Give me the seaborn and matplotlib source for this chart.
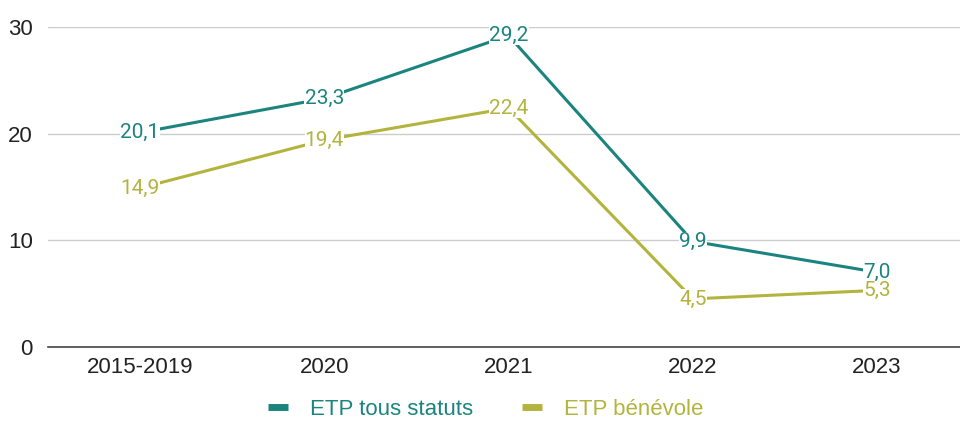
import pandas as pd
import matplotlib.pyplot as plt
import seaborn as sns

periodes = ['2015-2019', '2020', '2021', '2022', '2023']
etp_tous = [20.1, 23.3, 29.2, 9.9, 7.0]
etp_benevole = [14.9, 19.4, 22.4, 4.5, 5.3]

df = pd.DataFrame({
    'Periode': periodes * 2,
    'Valeur': etp_tous + etp_benevole,
    'Serie': ['ETP tous statuts'] * 5 + ['ETP bénévole'] * 5,
})

couleurs = {'ETP tous statuts': '#1b847e', 'ETP bénévole': '#b3b43e'}

sns.set_style('white')
plt.rcParams['font.family'] = ['Liberation Sans', 'DejaVu Sans']

fig = plt.figure(figsize=(9.6, 4.23), dpi=100)
ax = fig.add_axes([0.05, 0.18, 0.95, 0.756])

sns.lineplot(data=df, x='Periode', y='Valeur', hue='Serie', palette=couleurs,
             linewidth=2.2, ax=ax, sort=False)

# étiquettes de valeurs (virgule décimale)
for serie, vals in [('ETP tous statuts', etp_tous), ('ETP bénévole', etp_benevole)]:
    for i, v in enumerate(vals):
        ax.text(i, v, f'{v:.1f}'.replace('.', ','), ha='center', va='center',
                fontsize=15, color=couleurs[serie], clip_on=False,
                family=['Roboto', 'DejaVu Sans'],
                bbox=dict(facecolor='white', edgecolor='none', pad=0.2))

ax.set_ylim(0, 30)
ax.set_xlim(-0.5, 4.45)
ax.set_yticks([0, 10, 20, 30])
ax.yaxis.grid(True, color='#cccccc', linewidth=1)
ax.set_axisbelow(True)
for s in ['top', 'right', 'left']:
    ax.spines[s].set_visible(False)
ax.spines['bottom'].set_color('#444444')
ax.spines['bottom'].set_linewidth(1.2)
ax.tick_params(axis='both', length=0, labelsize=16, colors='#222222')
ax.tick_params(axis='x', pad=7)
ax.tick_params(axis='y', pad=11)
ax.set_xlabel('')
ax.set_ylabel('')

leg = ax.legend(loc='center', bbox_to_anchor=(0.48, -0.195), ncol=2,
                frameon=False, fontsize=16, handlelength=0.9, columnspacing=2.2,
                handletextpad=1.0)
for h in leg.get_lines():
    h.set_linewidth(5)
    h.set_solid_capstyle('butt')
for t, c in zip(leg.get_texts(), couleurs.values()):
    t.set_color(c)

fig.savefig('out.png', dpi=100)
